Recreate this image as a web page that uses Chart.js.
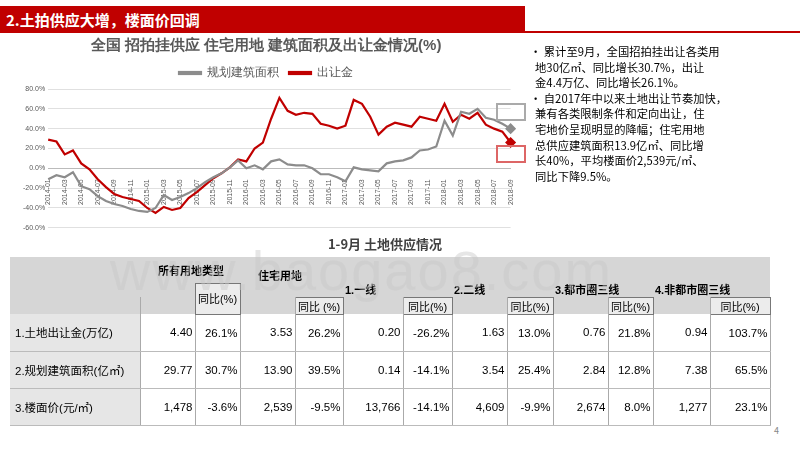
<!DOCTYPE html>
<html><head><meta charset="utf-8">
<script src="https://cdn.jsdelivr.net/npm/chart.js@4"></script>
<style>
body{margin:0;width:800px;height:450px;background:#fff;font-family:"Noto Sans CJK SC","Noto Sans",sans-serif;position:relative;overflow:hidden}
#hdr{position:absolute;left:0;top:6px;width:525px;height:27px;background:#c00000;color:#fff;font-weight:bold;font-size:15px;line-height:27px;padding-left:6px;box-sizing:border-box}
#hline{position:absolute;left:525px;top:31px;width:275px;height:2px;background:#c00000}
#cw{position:absolute;left:0;top:35px;width:522px;height:200px}
#txt{position:absolute;left:530px;top:44px;width:260px;font-size:11.3px;line-height:15.6px;color:#000;white-space:pre}
#ttl{position:absolute;left:0;width:770px;top:234px;text-align:center;font-weight:bold;font-size:13px;color:#404040}
table{position:absolute;left:10px;top:257px;width:760px;border-collapse:collapse;table-layout:fixed;font-family:"Liberation Sans","Noto Sans CJK SC",sans-serif;font-size:11.5px}
td{padding:0 2px;text-align:right;border-right:1px solid #aaa;white-space:nowrap;overflow:visible}
.h td{background:#d6d6d6;font-weight:bold;text-align:left;border-right:none;font-size:11px}
.g td{background:#d6d6d6;text-align:left;font-size:11px;font-weight:bold;border-right:none;line-height:12px}
.s td{background:#d6d6d6;text-align:left;font-size:11px}
td.y{background:#ececec !important;border:1px solid #777 !important;text-align:center !important;font-weight:normal !important}
tr.r td{height:36px;border-bottom:1px solid #bbb}
td.l{text-align:left;background:#e6e6e6;padding-left:5px}
#wm{position:absolute;left:110px;top:238px;font-size:56px;color:rgba(200,200,200,0.45);font-family:"Liberation Sans";letter-spacing:2px;pointer-events:none}
.bx{position:absolute;width:26px;height:14px;border:2px solid}
</style></head><body>
<div id="hdr">2.土拍供应大增，楼面价回调</div><div id="hline"></div>
<div id="cw"><canvas id="c"></canvas></div>
<div class="bx" style="left:496px;top:103px;border-color:#aaa"></div>
<div class="bx" style="left:496px;top:145px;border-color:#d66"></div>
<div id="txt">• 累计至9月，全国招拍挂出让各类用
  地30亿㎡、同比增长30.7%，出让
  金4.4万亿、同比增长26.1%。
• 自2017年中以来土地出让节奏加快，
  兼有各类限制条件和定向出让，住
  宅地价呈现明显的降幅；住宅用地
  总供应建筑面积13.9亿㎡、同比增
  长40%，平均楼面价2,539元/㎡、
  同比下降9.5%。</div>
<div id="ttl">1-9月 土地供应情况</div>
<table>
<colgroup id="cg"></colgroup>
<tr class="h" style="height:24px"><td style="background:#d6d6d6"></td><td colspan="2" style="padding-left:18px">所有用地类型</td><td colspan="2" style="padding-left:18px;padding-top:10px">住宅用地</td><td colspan="8"></td></tr>
<tr class="g" style="height:14px"><td></td><td></td><td class="y" rowspan="2">同比(%)</td><td colspan="2"></td><td colspan="2">1.一线</td><td colspan="2">2.二线</td><td colspan="2">3.都市圈三线</td><td colspan="2">4.非都市圈三线</td></tr>
<tr class="s" style="height:15px"><td></td><td></td><td></td><td class="y">同比 (%)</td><td></td><td class="y">同比(%)</td><td></td><td class="y">同比(%)</td><td></td><td class="y">同比(%)</td><td></td><td class="y">同比(%)</td></tr>
<tbody id="tb"></tbody>
</table>
<div id="wm">www.baogao8.com</div>
<div style="position:absolute;left:774px;top:424px;font-size:9px;color:#888">4</div>
<script>
const months=[];for(let y=2014;y<=2018;y++)for(let m=1;m<=12;m++){if(y===2018&&m>9)break;months.push(y+'-'+String(m).padStart(2,'0'));}
const areaYoY=[-11,-7,-9,-4,-18,-21,-28,-33,-36,-38,-41,-43,-44,-40,-27,-32,-29,-25,-20,-14,-9,-5,1,8,0,3,-1,7,9,4,3,3,0,-6,-6,-9,-13,1,-1,-2,-3,5,7,8,11,18,19,22,48,33,57,55,60,51,49,45,40];
const feeYoY=[29,27,14,18,5,-1,-11,-19,-26,-29,-31,-33,-40,-45,-39,-42,-40,-30,-24,-17,-10,-5,1,9,7,20,26,50,71,58,54,56,55,45,43,40,43,69,65,52,34,42,46,44,42,52,50,48,65,47,54,50,56,44,40,37,26];
const rowLabels=['1.土地出让金(万亿)','2.规划建筑面积(亿㎡)','3.楼面价(元/㎡)'];
const rowVals=[['4.40','26.1%','3.53','26.2%','0.20','-26.2%','1.63','13.0%','0.76','21.8%','0.94','103.7%'],
['29.77','30.7%','13.90','39.5%','0.14','-14.1%','3.54','25.4%','2.84','12.8%','7.38','65.5%'],
['1,478','-3.6%','2,539','-9.5%','13,766','-14.1%','4,609','-9.9%','2,674','8.0%','1,277','23.1%']];
const widths=[130,55,45,55,48,60,49,55,46,55,45,57,60];
document.getElementById('cg').innerHTML=widths.map(w=>'<col style="width:'+w+'px">').join('');
let h='';rowLabels.forEach((l,i)=>{h+='<tr class="r"><td class="l">'+l+'</td>';rowVals[i].forEach(v=>h+='<td>'+v+'</td>');h+='</tr>';});
document.getElementById('tb').innerHTML=h;
const last=n=>areaYoY.map((_,i)=>i===areaYoY.length-1?n:0);
new Chart(document.getElementById('c'),{type:'line',data:{labels:months,datasets:[
{label:'规划建筑面积',data:areaYoY,borderColor:'#8c8c8c',backgroundColor:'#8c8c8c',borderWidth:2.2,pointRadius:last(4),pointStyle:'rectRot',tension:0},
{label:'出让金',data:feeYoY,borderColor:'#c00000',backgroundColor:'#c00000',borderWidth:2.2,pointRadius:last(4),pointStyle:'rectRot',tension:0}]},
options:{responsive:true,maintainAspectRatio:false,animation:false,layout:{padding:{left:20,right:10,bottom:4}},
plugins:{title:{display:true,text:'全国 招拍挂供应 住宅用地 建筑面积及出让金情况(%)',color:'#595959',font:{size:15,weight:'bold'},padding:{top:2,bottom:2}},
legend:{labels:{usePointStyle:false,boxWidth:22,boxHeight:2,color:'#595959',font:{size:12}},},tooltip:{enabled:false}},
scales:{y:{min:-60,max:80,ticks:{stepSize:20,color:'#595959',font:{size:7},callback:v=>v.toFixed(1)+'%'},grid:{color:'#e0e0e0',drawTicks:false},border:{display:false}},
x:{position:{y:0},ticks:{autoSkip:false,maxRotation:90,minRotation:90,color:'#595959',font:{size:7},callback:function(v,i){return i%2===0?this.getLabelForValue(v):'';}},grid:{display:false},border:{color:'#bbb'}}}}});
</script></body></html>
